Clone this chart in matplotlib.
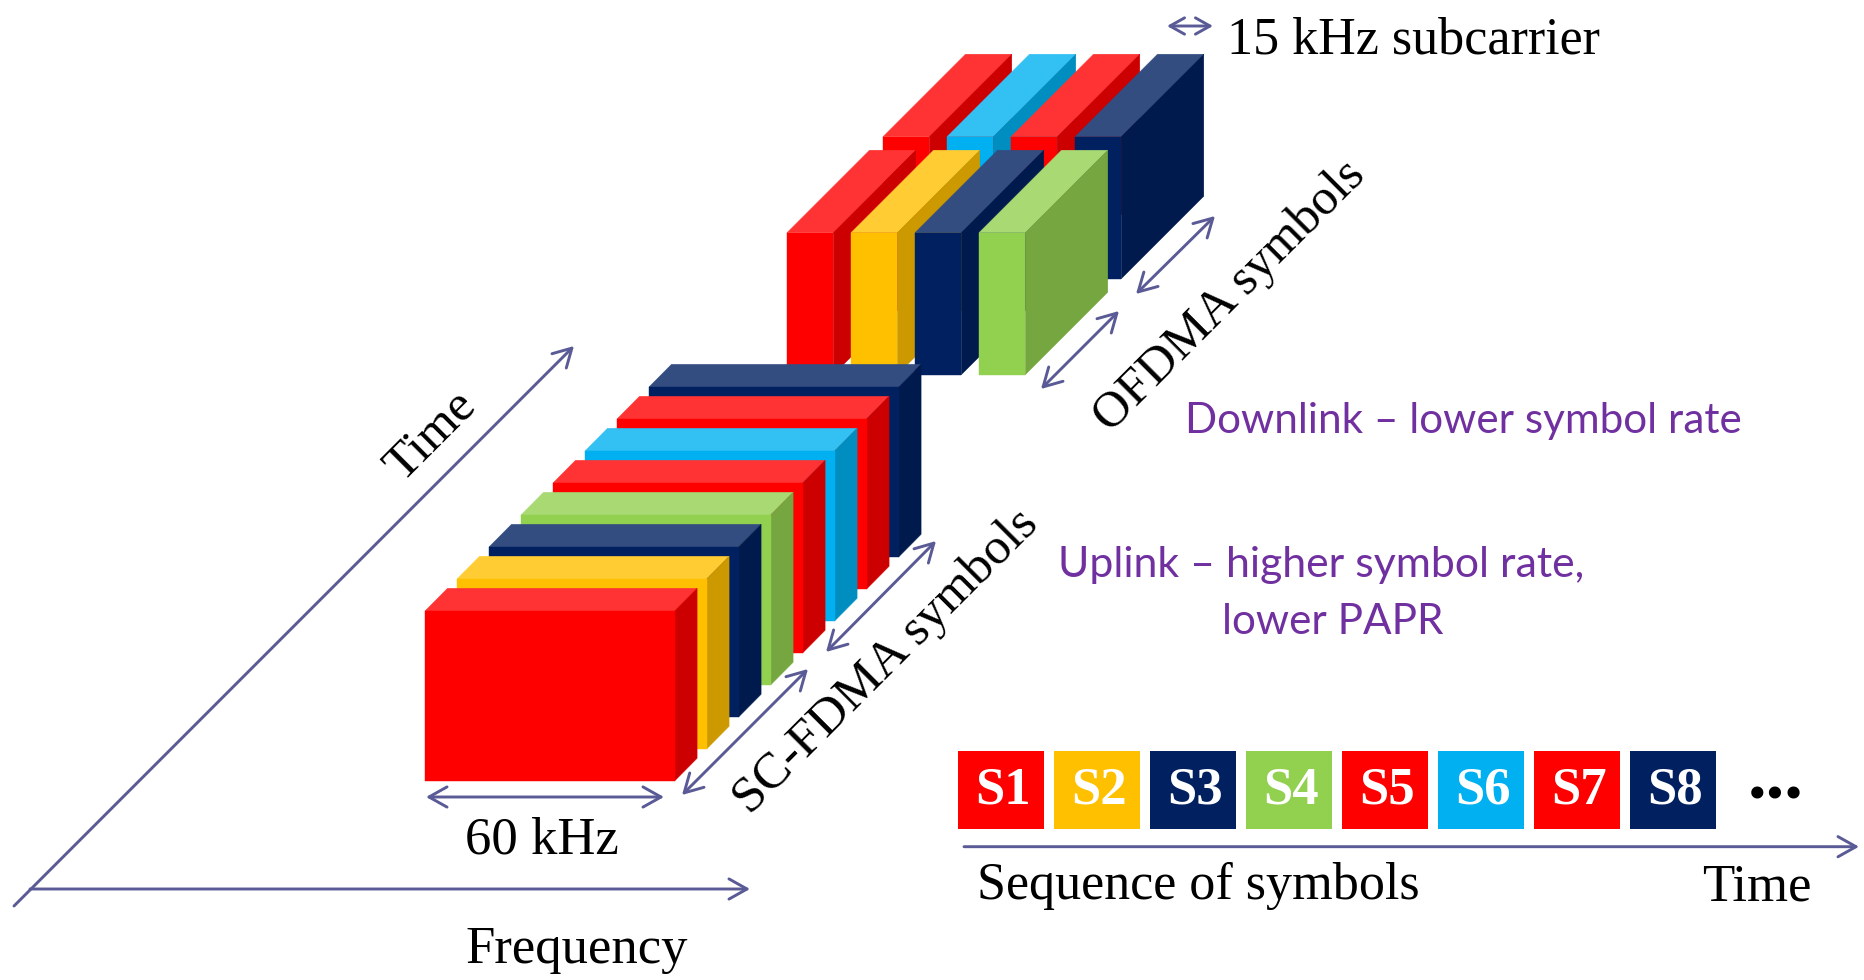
import matplotlib
matplotlib.use("Agg")
import matplotlib.pyplot as plt
from matplotlib.patches import Polygon, Rectangle

# block colours
RED = "#FF0000"
AMBER = "#FFC000"
NAVY = "#002060"
GREEN = "#92D050"
BLUE = "#00B0F0"

# front colour -> (top face, side face)
FACES = {
    RED: ("#FF3333", "#CC0000"),
    AMBER: ("#FFCD33", "#CC9A00"),
    NAVY: ("#334D80", "#001A4D"),
    GREEN: ("#A8D973", "#75A640"),
    BLUE: ("#33C0F3", "#008DC0"),
}

seq_labels = ["S1", "S2", "S3", "S4", "S5", "S6", "S7", "S8"]
seq_colors = [RED, AMBER, NAVY, GREEN, RED, BLUE, RED, NAVY]
dl_back_colors = [RED, BLUE, RED, NAVY]
dl_front_colors = [RED, AMBER, NAVY, GREEN]

ARROW = "#5A5A96"
PURPLE = "#7030A0"
SERIF = "Liberation Serif"
SANS = "Lato"


def draw_block(ax, x, y, w, h, dx, dy, color):
    """One 3D slab, x/y is the top left corner of the front face."""
    top, side = FACES[color]
    ax.add_patch(Polygon([(x, y), (x + dx, y - dy), (x + w + dx, y - dy), (x + w, y)],
                         facecolor=top, edgecolor=top, lw=0.3))
    ax.add_patch(Polygon([(x + w, y), (x + w + dx, y - dy), (x + w + dx, y + h - dy), (x + w, y + h)],
                         facecolor=side, edgecolor=side, lw=0.3))
    ax.add_patch(Rectangle((x, y), w, h, facecolor=color, edgecolor=color, lw=0.3))


def draw_arrow(ax, start, end, style="<->", head=13.0):
    ax.annotate("", xy=end, xytext=start,
                arrowprops=dict(arrowstyle=f"{style},head_length=1,head_width=0.56",
                                mutation_scale=head, color=ARROW, lw=2.1,
                                shrinkA=0, shrinkB=0))


fig = plt.figure(figsize=(18.64, 9.8), dpi=100, facecolor="white")
ax = fig.add_axes([0, 0, 1, 1])
ax.set_xlim(0, 1864)
ax.set_ylim(980, 0)
ax.axis("off")

# downlink, two rows of narrow long slabs
for i, c in enumerate(dl_back_colors):
    draw_block(ax, 883 + 64 * i, 136.7, 46.3, 142, 82.5, 82.5, c)
for i, c in enumerate(dl_front_colors):
    draw_block(ax, 787 + 64 * i, 232.7, 46.3, 142, 82.5, 82.5, c)

# uplink, wide short slabs, drawn back to front
for i in range(len(seq_colors) - 1, -1, -1):
    draw_block(ax, 425 + 32 * i, 611 - 32 * i, 249.6, 170, 22.5, 22.7, seq_colors[i])

# symbol sequence legend
for i, (lab, c) in enumerate(zip(seq_labels, seq_colors)):
    ax.add_patch(Rectangle((958.3 + 96 * i, 751), 85.4, 78, facecolor=c, edgecolor="none"))
    ax.text(958.3 + 96 * i + 45, 790, lab, color="white", fontsize=38, fontweight="bold",
            family=SERIF, ha="center", va="center")
ax.text(1776, 780, "...", color="black", fontsize=54, fontweight="bold", family=SERIF,
        ha="center", va="center")

# arrows
draw_arrow(ax, (14, 906), (574, 346), "->")
draw_arrow(ax, (30, 889), (750, 889), "->")
draw_arrow(ax, (964, 846.7), (1859, 846.7), "->")
draw_arrow(ax, (1167, 26), (1213, 26), head=10.5)
draw_arrow(ax, (1136, 294), (1215, 216))
draw_arrow(ax, (1041, 389), (1119, 311))
draw_arrow(ax, (826, 652), (936, 541))
draw_arrow(ax, (682, 795), (808, 669))
draw_arrow(ax, (426, 797), (664, 797))

# serif labels
ax.text(1227, 40, "15 kHz subcarrier", fontsize=37.5, family=SERIF, ha="left", va="center")
ax.text(1230, 296, "OFDMA symbols", fontsize=36.5, family=SERIF, rotation=45,
        rotation_mode="anchor", ha="center", va="center")
ax.text(886, 662, "SC-FDMA symbols", fontsize=37, family=SERIF, rotation=45,
        rotation_mode="anchor", ha="center", va="center")
ax.text(431, 436, "Time", fontsize=37, family=SERIF, rotation=45,
        rotation_mode="anchor", ha="center", va="center")
ax.text(542, 840, "60 kHz", fontsize=38, family=SERIF, ha="center", va="center")
ax.text(577, 950, "Frequency", fontsize=38, family=SERIF, ha="center", va="center")
ax.text(977, 886, "Sequence of symbols", fontsize=37.5, family=SERIF, ha="left", va="center")
ax.text(1757, 887, "Time", fontsize=38, family=SERIF, ha="center", va="center")

# purple notes
ax.text(1185, 421, "Downlink \u2013 lower symbol rate", fontsize=30.4, color=PURPLE, family=SANS,
        ha="left", va="center")
ax.text(1058, 565, "Uplink \u2013 higher symbol rate,", fontsize=30.8, color=PURPLE, family=SANS,
        ha="left", va="center")
ax.text(1222, 622, "lower PAPR", fontsize=30.4, color=PURPLE, family=SANS, ha="left", va="center")

fig.savefig("out.png", dpi=100, facecolor="white")
